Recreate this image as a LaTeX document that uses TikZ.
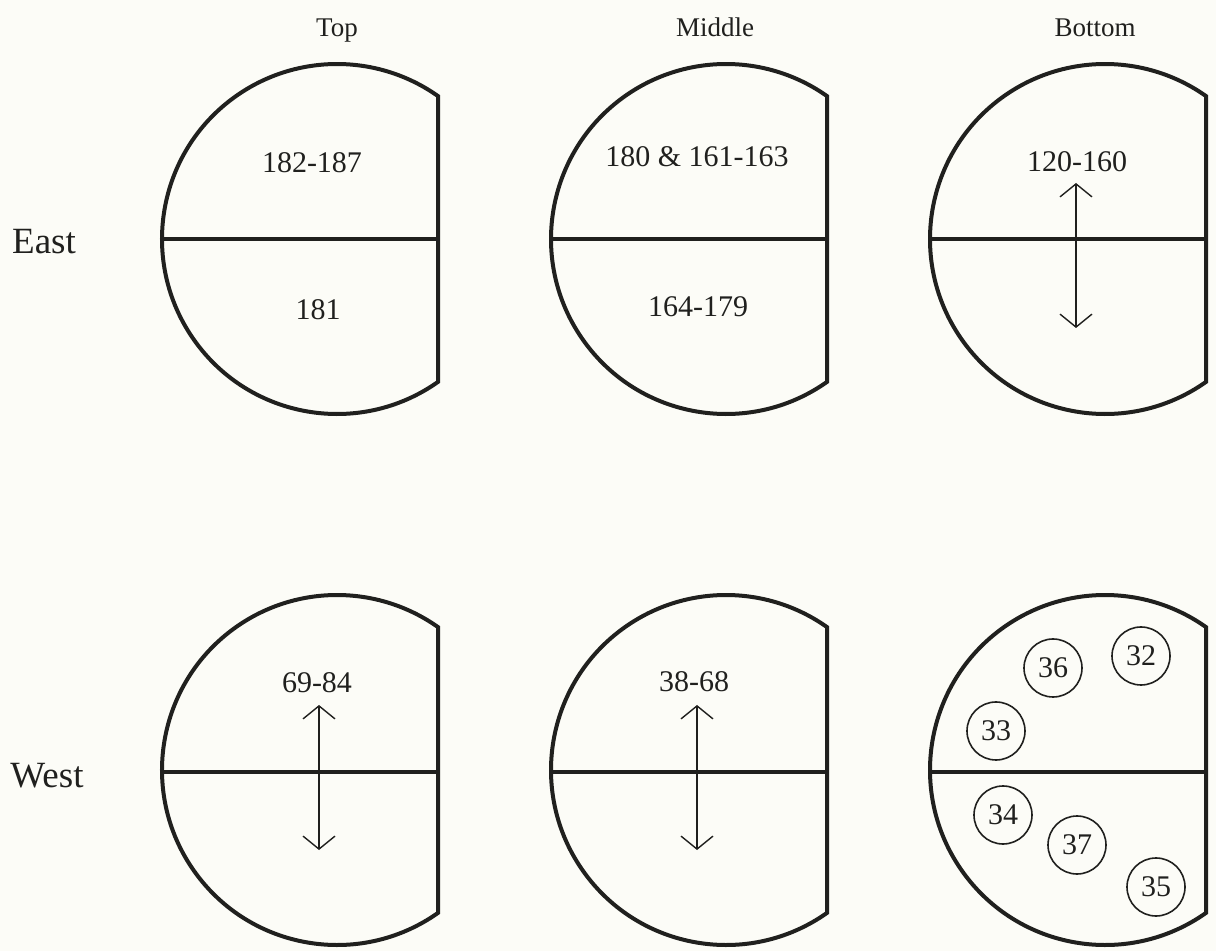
\documentclass[tikz,border=0pt]{standalone}
\usepackage{fontspec}
\setmainfont{Liberation Serif}
\usetikzlibrary{arrows.meta}
\definecolor{paper}{RGB}{252,252,247}
\definecolor{ink}{RGB}{32,32,30}
\tikzset{
  stand/.style={draw=ink,line width=2pt,fill=paper},
  divide/.style={draw=ink,line width=2pt},
  rangearr/.style={{Straight Barb[length=6.5pt,width=16pt]}-{Straight Barb[length=6.5pt,width=16pt]},draw=ink,line width=.7pt},
  collabel/.style={text=ink,inner sep=0pt,anchor=base,font=\fontsize{13.5}{16}\selectfont},
  rowlabel/.style={text=ink,inner sep=0pt,anchor=base,font=\fontsize{18.5}{22}\selectfont},
  numlabel/.style={text=ink,inner sep=0pt,font=\fontsize{15}{18}\selectfont},
  tag/.style={circle,draw=ink,line width=.8pt,inner sep=0pt,minimum size=29pt,text=ink,font=\fontsize{15}{18}\selectfont}
}

\begin{document}
\begin{tikzpicture}[x=.5pt,y=-.5pt]
  \path[use as bounding box,fill=paper] (0,0) rectangle (1216,951);

  % column and row headings
  \node[collabel] (top) at (337,37) {Top};
  \node[collabel] (middle) at (715,37) {Middle};
  \node[collabel] (bottom) at (1095,37) {Bottom};
  \node[rowlabel] (east) at (44,254) {East};
  \node[rowlabel] (west) at (47,787) {West};

  % east row
  \draw[stand] (337,239) ++(54.7:175) arc[start angle=54.7,end angle=305.3,radius=175] -- cycle;
  \draw[divide] (162,239) -- (438,239);
  \draw[stand] (726,239) ++(54.7:175) arc[start angle=54.7,end angle=305.3,radius=175] -- cycle;
  \draw[divide] (551,239) -- (827,239);
  \draw[stand] (1105,239) ++(54.7:175) arc[start angle=54.7,end angle=305.3,radius=175] -- cycle;
  \draw[divide] (930,239) -- (1206,239);

  \node[numlabel] (et-up) at (312,163) {182-187};
  \node[numlabel] (et-low) at (318,310) {181};
  \node[numlabel] (em-up) at (697,157) {180 \& 161-163};
  \node[numlabel] (em-low) at (698,307) {164-179};
  \node[numlabel] (eb-up) at (1077,162) {120-160};
  \coordinate (eb-top) at (1076,183);
  \coordinate (eb-bot) at (1076,328);
  \draw[rangearr] (eb-top) -- (eb-bot);

  % west row
  \draw[stand] (337,770) ++(54.7:175) arc[start angle=54.7,end angle=305.3,radius=175] -- cycle;
  \draw[divide] (162,772) -- (438,772);
  \draw[stand] (726,770) ++(54.7:175) arc[start angle=54.7,end angle=305.3,radius=175] -- cycle;
  \draw[divide] (551,772) -- (827,772);
  \draw[stand] (1105,770) ++(54.7:175) arc[start angle=54.7,end angle=305.3,radius=175] -- cycle;
  \draw[divide] (930,772) -- (1206,772);

  \node[numlabel] (wt-up) at (317,683) {69-84};
  \coordinate (wt-top) at (319,705);
  \coordinate (wt-bot) at (319,850);
  \draw[rangearr] (wt-top) -- (wt-bot);
  \node[numlabel] (wm-up) at (694,682) {38-68};
  \coordinate (wm-top) at (697,705);
  \coordinate (wm-bot) at (697,850);
  \draw[rangearr] (wm-top) -- (wm-bot);

  \node[tag] (n36) at (1053,668) {36};
  \node[tag] (n32) at (1141,656) {32};
  \node[tag] (n33) at (996,731) {33};
  \node[tag] (n34) at (1003,815) {34};
  \node[tag] (n37) at (1077,845) {37};
  \node[tag] (n35) at (1156,887) {35};
\end{tikzpicture}
\end{document}
